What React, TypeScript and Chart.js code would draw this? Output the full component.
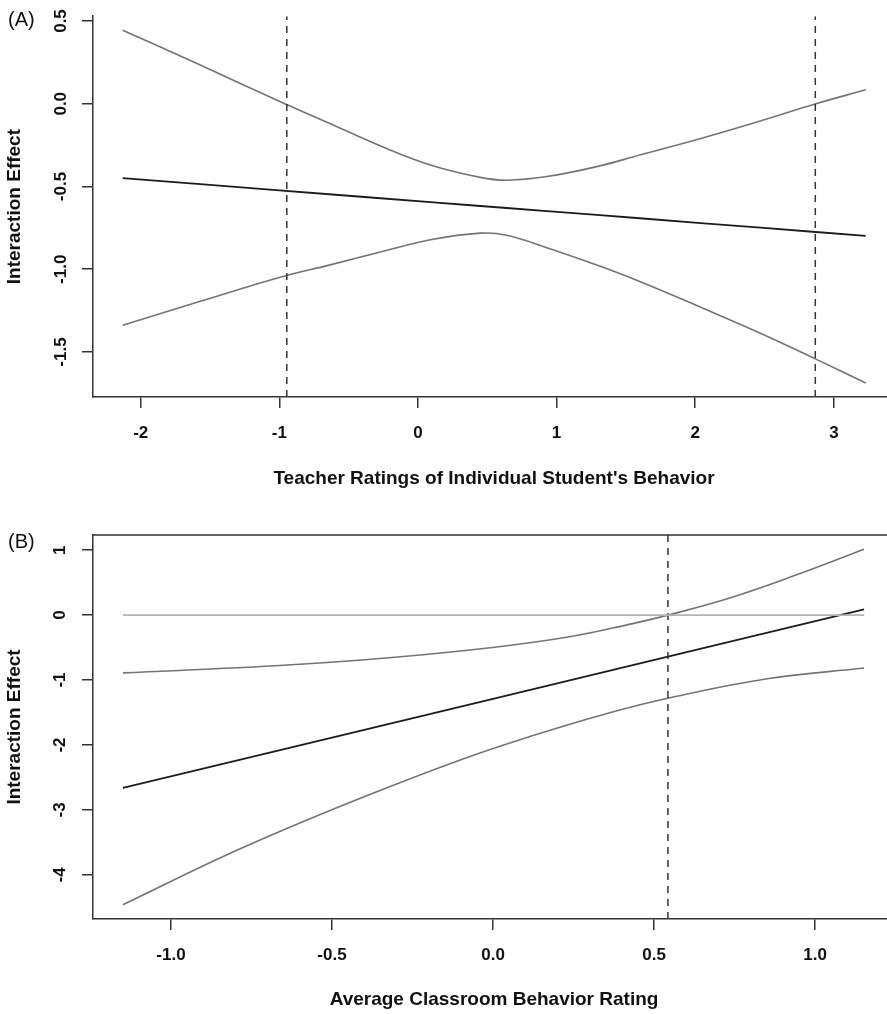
import React, { useEffect, useRef } from "react";
import { Chart, registerables } from "chart.js";
Chart.register(...registerables);

const FONT = "'Liberation Sans', Arial, Helvetica, sans-serif";
const yTitle = "Interaction Effect";

// ---------- Panel A ----------
const xA = [-2.13, -1.57, -1.0, -0.64, -0.27, 0.09, 0.45, 0.64, 0.93, 1.29, 1.6, 2.04, 2.47, 2.87, 3.23];
const centerA = [-0.45, -0.486, -0.523, -0.547, -0.571, -0.594, -0.618, -0.63, -0.649, -0.672, -0.692, -0.721, -0.749, -0.775, -0.798];
const upperA = [0.444, 0.234, 0.015, -0.118, -0.255, -0.37, -0.445, -0.462, -0.44, -0.38, -0.31, -0.21, -0.104, 0.0, 0.084];
const lowerA = [-1.339, -1.194, -1.05, -0.975, -0.896, -0.822, -0.782, -0.795, -0.87, -0.975, -1.074, -1.23, -1.387, -1.543, -1.687];
const jnA = [-0.946, 2.866];
const xTicksA = [-2, -1, 0, 1, 2, 3];
const xTickLabelsA = ["-2", "-1", "0", "1", "2", "3"];
const yTicksA = [-1.5, -1, -0.5, 0, 0.5];
const yTickLabelsA = ["-1.5", "-1.0", "-0.5", "0.0", "0.5"];
const xRangeA = [-2.344, 3.441];
const yRangeA = [-1.772, 0.529];
const xTitleA = "Teacher Ratings of Individual Student's Behavior";

// ---------- Panel B ----------
const xCenterB = [-1.149, -0.5, 0.0, 0.543, 1.152];
const centerB = [-2.662, -1.886, -1.289, -0.64, 0.088];
const xUpperB = [-1.149, -0.677, -0.332, 0.012, 0.242, 0.416, 0.543, 0.745, 0.953, 1.152];
const upperB = [-0.89, -0.78, -0.66, -0.49, -0.33, -0.15, 0.0, 0.28, 0.64, 1.015];
const xLowerB = [-1.149, -0.792, -0.447, -0.102, 0.127, 0.357, 0.543, 0.851, 1.152];
const lowerB = [-4.46, -3.615, -2.89, -2.23, -1.85, -1.51, -1.28, -0.98, -0.815];
const zeroLineB = [-1.149, 1.152];
const jnB = [0.543];
const xTicksB = [-1, -0.5, 0, 0.5, 1];
const xTickLabelsB = ["-1.0", "-0.5", "0.0", "0.5", "1.0"];
const yTicksB = [-4, -3, -2, -1, 0, 1];
const yTickLabelsB = ["-4", "-3", "-2", "-1", "0", "1"];
const xRangeB = [-1.242, 1.248];
const yRangeB = [-4.68, 1.234];
const xTitleB = "Average Classroom Behavior Rating";

type Panel = {
  label: string;
  labelY: number;
  width: number;
  height: number;
  padTop: number;
  xAxisH: number;
  xTitlePadBottom: number;
  yTickPad: number;
  xRange: number[];
  yRange: number[];
  xTicks: number[];
  xTickLabels: string[];
  yTicks: number[];
  yTickLabels: string[];
  xTitle: string;
  boxed: boolean;
  datasets: any[];
};

const pts = (xs: number[], ys: number[]) => xs.map((x, i) => ({ x, y: ys[i] }));

const ciStyle = {
  borderColor: "#747474",
  borderWidth: 1.6,
  pointRadius: 0,
  tension: 0.4,
};
const centerStyle = { borderColor: "#1c1c1c", borderWidth: 1.8, pointRadius: 0 };
const dashStyle = { borderColor: "#333", borderWidth: 1.5, borderDash: [7, 6], pointRadius: 0 };

const panelA: Panel = {
  label: "(A)",
  labelY: 20,
  width: 900,
  height: 500,
  padTop: 14,
  xAxisH: 103,
  xTitlePadBottom: 9.9,
  yTickPad: 6,
  xRange: xRangeA,
  yRange: yRangeA,
  xTicks: xTicksA,
  xTickLabels: xTickLabelsA,
  yTicks: yTicksA,
  yTickLabels: yTickLabelsA,
  xTitle: xTitleA,
  boxed: false,
  datasets: [
    ...jnA.map((v) => ({ ...dashStyle, data: [{ x: v, y: yRangeA[0] }, { x: v, y: yRangeA[1] }] })),
    { ...ciStyle, data: pts(xA, upperA) },
    { ...ciStyle, data: pts(xA, lowerA) },
    { ...centerStyle, data: pts(xA, centerA) },
  ],
};

const panelB: Panel = {
  label: "(B)",
  labelY: 42,
  width: 900,
  height: 514,
  padTop: 35,
  xAxisH: 95,
  xTitlePadBottom: 2.6,
  yTickPad: 14,
  xRange: xRangeB,
  yRange: yRangeB,
  xTicks: xTicksB,
  xTickLabels: xTickLabelsB,
  yTicks: yTicksB,
  yTickLabels: yTickLabelsB,
  xTitle: xTitleB,
  boxed: true,
  datasets: [
    { borderColor: "#b4b4b4", borderWidth: 1.6, pointRadius: 0, data: zeroLineB.map((x) => ({ x, y: 0 })) },
    ...jnB.map((v) => ({ ...dashStyle, data: [{ x: v, y: yRangeB[0] }, { x: v, y: yRangeB[1] }] })),
    { ...ciStyle, data: pts(xUpperB, upperB) },
    { ...ciStyle, data: pts(xLowerB, lowerB) },
    { ...centerStyle, data: pts(xCenterB, centerB) },
  ],
};

function makeChart(canvas: HTMLCanvasElement, p: Panel) {
  const tickFont = { family: FONT, size: 17, weight: "bold" as const };
  const titleFont = { family: FONT, size: 19, weight: "bold" as const };
  const decor = {
    id: "decor",
    afterDraw(chart: any) {
      const ctx = chart.ctx;
      const a = chart.chartArea;
      ctx.save();
      ctx.fillStyle = "#111";
      ctx.font = `20px ${FONT}`;
      ctx.textBaseline = "middle";
      ctx.textAlign = "left";
      ctx.fillText(p.label, 8, p.labelY);
      if (p.boxed) {
        ctx.strokeStyle = "#333";
        ctx.lineWidth = 1.5;
        ctx.beginPath();
        ctx.moveTo(a.left, a.top);
        ctx.lineTo(a.right, a.top);
        ctx.lineTo(a.right, a.bottom);
        ctx.stroke();
      }
      ctx.restore();
    },
  };
  return new Chart(canvas, {
    type: "line",
    data: { datasets: p.datasets },
    plugins: [decor],
    options: {
      responsive: false,
      animation: false,
      events: [],
      layout: { padding: { top: p.padTop, right: 5, left: 0, bottom: 0 } },
      plugins: { legend: { display: false }, tooltip: { enabled: false }, title: { display: false } },
      scales: {
        x: {
          type: "linear",
          min: p.xRange[0],
          max: p.xRange[1],
          afterBuildTicks: (s: any) => {
            s.ticks = p.xTicks.map((v) => ({ value: v }));
          },
          afterFit: (s: any) => {
            s.height = p.xAxisH;
          },
          ticks: {
            autoSkip: false,
            maxRotation: 0,
            minRotation: 0,
            padding: 15,
            color: "#111",
            font: tickFont,
            callback: (_v: any, i: number) => p.xTickLabels[i],
          },
          grid: { display: true, drawOnChartArea: false, drawTicks: true, tickLength: 11, color: "#333", lineWidth: 1.5 },
          border: { display: true, color: "#333", width: 1.5 },
          title: {
            display: true,
            text: p.xTitle,
            color: "#111",
            font: titleFont,
            padding: { top: 0, bottom: p.xTitlePadBottom },
          },
        },
        y: {
          type: "linear",
          min: p.yRange[0],
          max: p.yRange[1],
          afterBuildTicks: (s: any) => {
            s.ticks = p.yTicks.map((v) => ({ value: v }));
          },
          afterFit: (s: any) => {
            s.width = 93;
          },
          ticks: {
            autoSkip: false,
            minRotation: 90,
            maxRotation: 90,
            crossAlign: "center",
            padding: p.yTickPad,
            color: "#111",
            font: tickFont,
            callback: (_v: any, i: number) => p.yTickLabels[i],
          },
          grid: { display: true, drawOnChartArea: false, drawTicks: true, tickLength: 11, color: "#333", lineWidth: 1.5 },
          border: { display: true, color: "#333", width: 1.5 },
          title: {
            display: true,
            text: yTitle,
            color: "#111",
            font: titleFont,
            padding: { top: 3.6, bottom: 0 },
          },
        },
      },
    } as any,
  });
}

function PanelChart({ panel, top }: { panel: Panel; top: number }) {
  const ref = useRef<HTMLCanvasElement | null>(null);
  useEffect(() => {
    if (!ref.current) return;
    const chart = makeChart(ref.current, panel);
    return () => chart.destroy();
  }, [panel]);
  return (
    <canvas
      ref={ref}
      width={panel.width}
      height={panel.height}
      style={{ position: "absolute", left: 0, top, width: panel.width, height: panel.height }}
    />
  );
}

export default function App() {
  return (
    <div
      style={{
        position: "absolute",
        left: 0,
        top: 0,
        width: 887,
        height: 1014,
        overflow: "hidden",
        background: "#fff",
      }}
    >
      <PanelChart panel={panelA} top={0} />
      <PanelChart panel={panelB} top={500} />
    </div>
  );
}
